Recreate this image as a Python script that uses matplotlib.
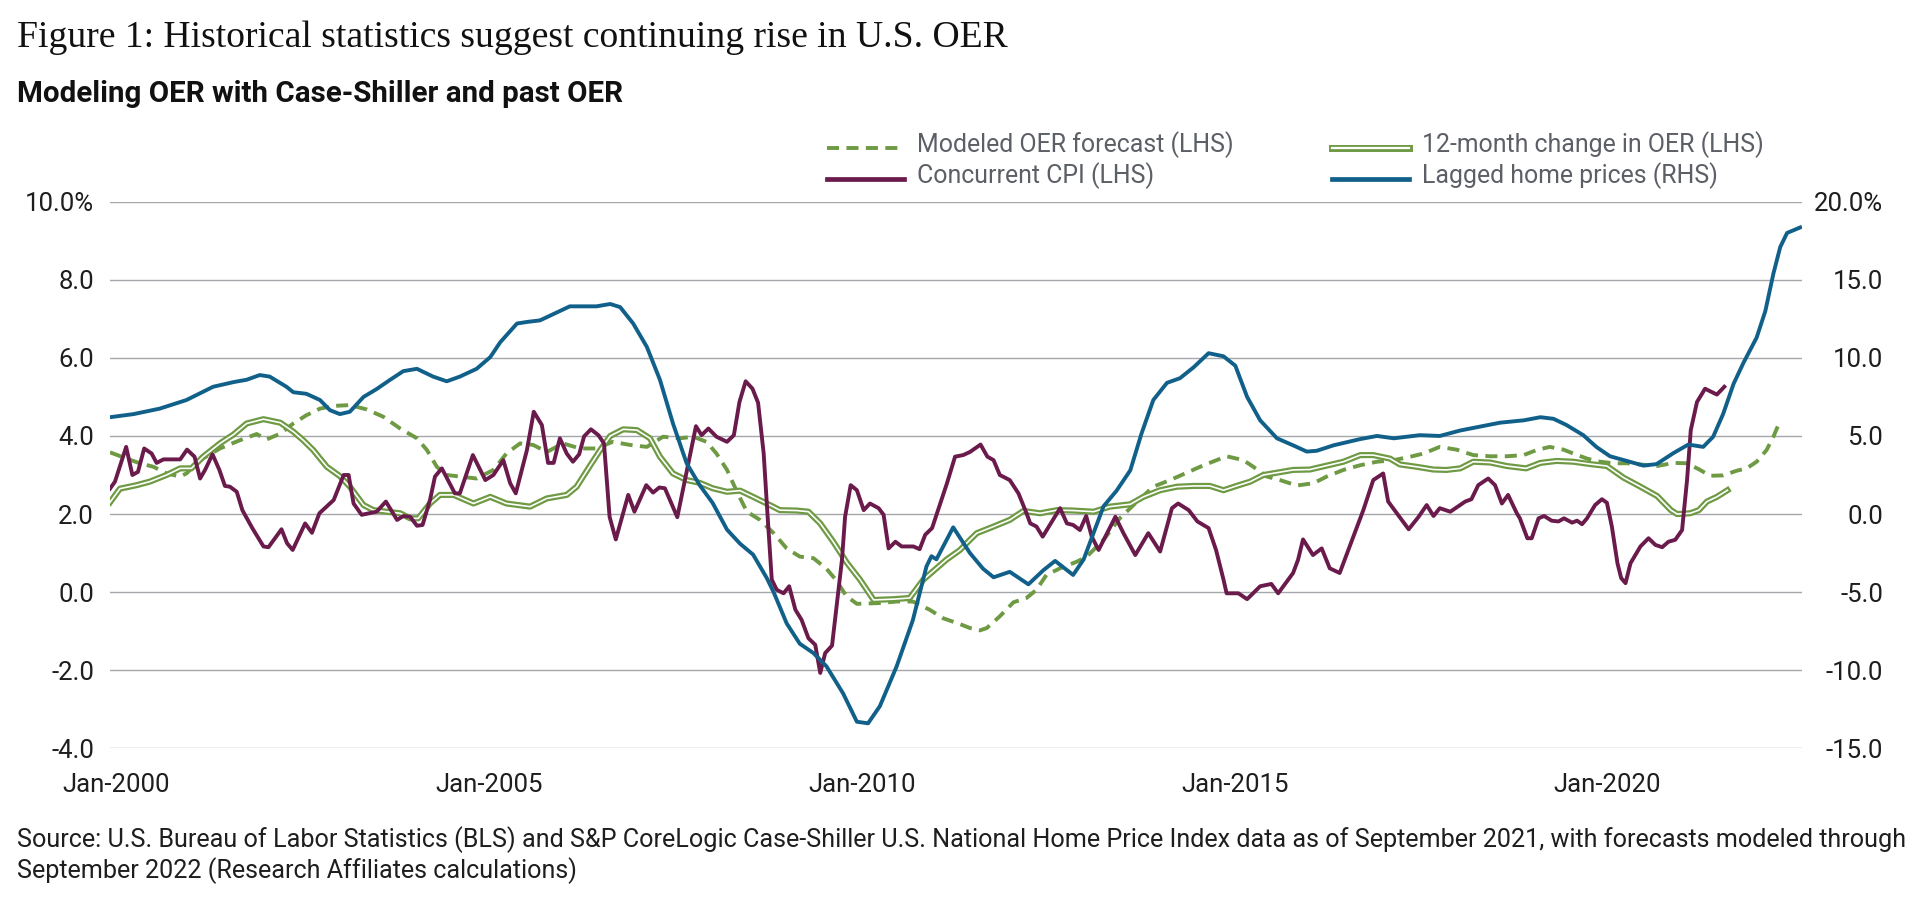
import matplotlib
matplotlib.use("Agg")
import matplotlib.pyplot as plt
from matplotlib.lines import Line2D

# ---------------- data (x = months since Jan-2000, values in %) ----------------
home_prices_rhs = [(-1, 6.2), (2.8, 6.4), (7, 6.75), (11.3, 7.3), (15.6, 8.15), (18.9, 8.45), (21, 8.6),
    (23.1, 8.9), (24.7, 8.8), (27.4, 8.15), (28.5, 7.8), (30.6, 7.7), (32.8, 7.3), (34.4, 6.65), (36, 6.4),
    (37.6, 6.55), (39.8, 7.5), (41.9, 8.0), (44.1, 8.6), (46.2, 9.15), (48.4, 9.3), (51, 8.8), (53.2, 8.5),
    (55.3, 8.8), (58, 9.3), (60.2, 10.05), (61.8, 11.0), (64.5, 12.2), (66.1, 12.3), (68.2, 12.4), (69.8, 12.7),
    (73, 13.3), (77.3, 13.3), (79.5, 13.45), (81.1, 13.25), (83.2, 12.2), (85.4, 10.7), (87.5, 8.6), (89.6, 5.8),
    (91.8, 3.25), (93.9, 1.85), (96, 0.7), (98.3, -1.0), (100.4, -1.9), (102.5, -2.6), (104.7, -4.1),
    (105.8, -5.0), (107.9, -7.0), (110, -8.3), (112.2, -8.9), (114.3, -9.75), (117, -11.5), (119.2, -13.3),
    (121, -13.4), (122.9, -12.3), (125.6, -9.75), (128.2, -6.8), (130.4, -3.35), (131.2, -2.7), (132, -2.9),
    (134.7, -0.85), (137.4, -2.5), (139.5, -3.5), (141.2, -4.05), (143.8, -3.7), (146.8, -4.5), (149.2, -3.6),
    (151.1, -3.0), (154, -3.9), (155.7, -2.9), (158.9, 0.5), (161, 1.5), (163.2, 2.8), (165, 5.15),
    (166.9, 7.3), (169.1, 8.4), (171.2, 8.7), (173.4, 9.4), (175.8, 10.3), (178.2, 10.1), (180.1, 9.5),
    (182, 7.5), (184.1, 6.0), (186.8, 4.85), (189.4, 4.4), (191.6, 4.0), (193.2, 4.05), (195.9, 4.4),
    (200.2, 4.8), (202.9, 5.0), (205.6, 4.85), (209.8, 5.05), (213, 5.0), (216.3, 5.35), (219.5, 5.6),
    (222.7, 5.85), (226.5, 6.0), (229.2, 6.2), (231.3, 6.1), (233.4, 5.7), (236.1, 5.05), (238.2, 4.3),
    (240.4, 3.7), (243.1, 3.4), (245.8, 3.1), (247.9, 3.2), (250.6, 3.9), (253, 4.45), (255.4, 4.3),
    (257, 4.95), (258.6, 6.4), (260.3, 8.35), (261.9, 9.7), (264, 11.3), (265.4, 13.0), (266.7, 15.4),
    (267.8, 17.1), (268.9, 18.0), (271, 18.35)]

concurrent_cpi = [(-1, 2.65), (-0.2, 2.83), (1.6, 3.72), (2.6, 3.0), (3.5, 3.08), (4.5, 3.68), (5.7, 3.55),
    (6.5, 3.31), (7.6, 3.40), (10.3, 3.40), (11.4, 3.65), (12.6, 3.47), (13.5, 2.91), (14.3, 3.13), (15.5, 3.53),
    (16.6, 3.13), (17.5, 2.72), (18.3, 2.70), (19.4, 2.57), (20.3, 2.10), (21.9, 1.64), (23.7, 1.17), (24.5, 1.15),
    (26.6, 1.61), (27.5, 1.25), (28.4, 1.08), (30.4, 1.76), (31.5, 1.52), (32.7, 2.02), (35, 2.36), (36.6, 3.0),
    (37.4, 3.0), (38.2, 2.27), (39.5, 1.98), (41.9, 2.06), (43.4, 2.32), (45.2, 1.85), (46.2, 1.95), (47.3, 1.93),
    (48.4, 1.70), (49.3, 1.72), (50.5, 2.36), (51.3, 2.96), (52.4, 3.17), (54.5, 2.53), (55.3, 2.53), (57.4, 3.51),
    (59.4, 2.87), (60.7, 3.0), (62.3, 3.38), (63.4, 2.79), (64.3, 2.53), (66.1, 3.64), (67.2, 4.62), (68.5, 4.28),
    (69.5, 3.31), (70.4, 3.31), (71.4, 3.94), (72.5, 3.55), (73.5, 3.34), (74.5, 3.53), (75.3, 3.99), (76.4, 4.17),
    (77.6, 4.02), (78.5, 3.81), (79.4, 1.93), (80.4, 1.35), (82.4, 2.49), (83.4, 2.06), (85.3, 2.74), (86.4, 2.55),
    (87.4, 2.68), (88.3, 2.66), (90.3, 1.92), (93.3, 4.25), (94.2, 4.02), (95.3, 4.19), (96.6, 3.98), (98.3, 3.85),
    (99.4, 4.02), (100.3, 4.87), (101.3, 5.40), (102.4, 5.21), (103.3, 4.85), (104.2, 3.55), (104.8, 2.02),
    (105.5, 0.32), (106.3, 0.06), (107.4, -0.03), (108.3, 0.15), (109.3, -0.45), (110.3, -0.71), (111.4, -1.18),
    (112.5, -1.35), (113.3, -2.07), (114.1, -1.56), (115.2, -1.37), (116, -0.28), (116.8, 0.83), (117.3, 1.93),
    (118.2, 2.74), (119.2, 2.61), (120.3, 2.10), (121.3, 2.27), (122.7, 2.15), (123.5, 1.98), (124.3, 1.12),
    (125.4, 1.29), (126.4, 1.17), (128.3, 1.17), (129.3, 1.10), (130.2, 1.47), (131.3, 1.64), (133.7, 2.79),
    (135, 3.47), (136.3, 3.51), (137.4, 3.59), (139.1, 3.78), (140.2, 3.47), (141.2, 3.38), (142.2, 3.0),
    (143.8, 2.87), (145.2, 2.53), (146.5, 2.02), (147.1, 1.76), (148.1, 1.68), (149.1, 1.42), (151.9, 2.15),
    (153, 1.76), (154, 1.72), (155.1, 1.59), (156.1, 1.95), (157, 1.42), (158.1, 1.08), (160.8, 1.93),
    (162.1, 1.51), (164, 0.95), (166.1, 1.51), (168, 1.04), (169.9, 2.15), (170.9, 2.27), (172.6, 2.10),
    (174, 1.81), (175.8, 1.64), (177, 1.08), (178.2, 0.32), (178.7, -0.03), (179.5, -0.03), (180.6, -0.03),
    (182, -0.18), (184.1, 0.15), (185.9, 0.21), (187, -0.03), (189.4, 0.49), (190.2, 0.83), (191, 1.35),
    (192.6, 0.95), (194, 1.12), (195.3, 0.61), (196.9, 0.49), (198.6, 1.21), (200.7, 2.10), (202.3, 2.87),
    (203.9, 3.04), (204.7, 2.32), (206.1, 2.02), (208, 1.61), (209.6, 1.93), (210.9, 2.23), (212, 1.95),
    (213, 2.15), (214.7, 2.06), (217.1, 2.32), (218.1, 2.38), (219.2, 2.74), (220.8, 2.91), (221.9, 2.74),
    (223, 2.27), (224, 2.49), (225.4, 2.02), (225.9, 1.89), (227.1, 1.38), (227.8, 1.38), (228.9, 1.89),
    (229.8, 1.95), (231, 1.83), (232.1, 1.81), (233, 1.89), (234.3, 1.78), (235.1, 1.83), (235.9, 1.74),
    (236.7, 1.89), (238, 2.23), (239.1, 2.38), (239.9, 2.29), (240.7, 1.68), (241.6, 0.74), (242.2, 0.36),
    (242.9, 0.23), (243.7, 0.74), (245.3, 1.17), (246.6, 1.38), (247.7, 1.21), (248.8, 1.15), (249.8, 1.29),
    (250.9, 1.34), (252, 1.59), (252.8, 2.87), (253.4, 4.15), (254.4, 4.87), (255.7, 5.21), (257.6, 5.06),
    (258.8, 5.26)]

oer_12m_change = [(-1, 2.3), (0.6, 2.65), (3.3, 2.74), (5.4, 2.83), (8.1, 3.0), (10.3, 3.17), (12.1, 3.17),
    (14, 3.47), (16.7, 3.81), (18.9, 4.04), (21, 4.32), (23.7, 4.43), (26.4, 4.34), (28.5, 4.11), (30.1, 3.89),
    (31.7, 3.64), (33.9, 3.21), (36, 2.97), (37.6, 2.70), (39.8, 2.23), (41.4, 2.10), (43.5, 2.06), (45.7, 2.02),
    (47.3, 1.89), (48.6, 1.89), (50.5, 2.27), (52.1, 2.49), (54.3, 2.49), (57.5, 2.27), (60.2, 2.44),
    (62.8, 2.27), (66.6, 2.19), (69.3, 2.40), (72.5, 2.49), (74.1, 2.70), (76.3, 3.25), (77.9, 3.64), (79.5, 4.0),
    (81.6, 4.17), (83.8, 4.15), (85.9, 3.94), (87.5, 3.47), (89.6, 3.04), (91.8, 2.87), (93.9, 2.80), (96, 2.66),
    (98.3, 2.57), (100.4, 2.60), (102.5, 2.44), (105.2, 2.23), (106.8, 2.10), (109.5, 2.09), (111.4, 2.06),
    (113.3, 1.76), (115.4, 1.29), (117.6, 0.75), (119.7, 0.32), (121.9, -0.20), (125.1, -0.18), (127.7, -0.15),
    (129.9, 0.32), (133.6, 0.83), (135.8, 1.08), (137.4, 1.34), (138.5, 1.51), (141.2, 1.68), (143.8, 1.85),
    (146, 2.08), (148.7, 2.02), (151.4, 2.10), (154, 2.09), (157.3, 2.06), (159.9, 2.19), (163.2, 2.25),
    (165.3, 2.44), (168, 2.61), (170.7, 2.70), (173.4, 2.72), (176, 2.72), (178.2, 2.61), (180.3, 2.72),
    (182.5, 2.83), (184.6, 3.0), (186.8, 3.06), (189.4, 3.13), (192.1, 3.14), (194.8, 3.24), (197.5, 3.34),
    (200.2, 3.51), (202.3, 3.51), (205, 3.42), (206.6, 3.27), (209.3, 3.21), (212, 3.14), (214.1, 3.13),
    (216.3, 3.17), (218.4, 3.34), (221.1, 3.32), (223.8, 3.23), (226.9, 3.17), (229.2, 3.31), (231.8, 3.36),
    (234.5, 3.34), (237.2, 3.28), (239.9, 3.23), (242.6, 2.93), (245.3, 2.70), (248, 2.46), (250.2, 2.10),
    (251.2, 2.0), (253.3, 2.02), (254.7, 2.10), (256, 2.32), (257.6, 2.44), (259.3, 2.61)]

modeled_oer = [(-1, 3.58), (1.7, 3.42), (3.8, 3.30), (6, 3.21), (8.1, 3.04), (10.3, 2.96), (11.3, 3.04),
    (13.5, 3.38), (16.7, 3.68), (19.9, 3.89), (22.6, 4.05), (24.2, 3.91), (26.4, 4.06), (28.5, 4.32), (30.6, 4.53),
    (32.8, 4.70), (35, 4.77), (37.6, 4.79), (40.3, 4.68), (43, 4.49), (45.7, 4.19), (48.4, 3.94), (50, 3.64),
    (51.6, 3.21), (53.2, 3.0), (55.3, 2.96), (58, 2.91), (60.7, 3.13), (62.8, 3.55), (65, 3.81), (67.1, 3.77),
    (69.3, 3.59), (71.9, 3.81), (74.6, 3.68), (77.2, 3.68), (79.9, 3.85), (82.7, 3.77), (85.4, 3.72), (88, 3.98),
    (90.7, 3.94), (92.9, 3.98), (95, 3.85), (96.6, 3.55), (98.3, 3.13), (99.9, 2.57), (101.5, 2.06), (103.6, 1.85),
    (105.8, 1.51), (107.9, 1.12), (110, 0.91), (112.2, 0.87), (114.3, 0.6), (115.9, 0.3), (117.5, -0.1),
    (119.2, -0.3), (122.9, -0.28), (125.6, -0.24), (128.2, -0.24), (130.9, -0.45), (133.1, -0.67), (135.8, -0.82),
    (137.4, -0.92), (139, -0.98), (140.1, -0.92), (142.2, -0.62), (144.4, -0.26), (146.5, -0.15), (148.1, 0.06),
    (149.7, 0.44), (151.9, 0.61), (154.6, 0.78), (156.2, 0.91), (158.9, 1.34), (161.5, 1.89), (164.3, 2.32),
    (166.9, 2.70), (169.6, 2.87), (172.3, 3.06), (175, 3.25), (178.7, 3.48), (181.4, 3.38), (183, 3.21),
    (185.2, 2.96), (187.3, 2.87), (190, 2.73), (192.7, 2.79), (194.8, 2.96), (197.5, 3.13), (200.2, 3.25),
    (202.9, 3.34), (205.6, 3.38), (208.3, 3.47), (210.4, 3.55), (213, 3.72), (215.7, 3.65), (218.4, 3.51),
    (221.1, 3.48), (223.8, 3.48), (226.5, 3.51), (228.6, 3.64), (230.7, 3.72), (232.9, 3.65), (234.5, 3.55),
    (236.7, 3.42), (238.8, 3.34), (241, 3.30), (243.1, 3.30), (245.3, 3.27), (248, 3.23), (250.6, 3.31),
    (252.8, 3.30), (254.9, 3.13), (256.5, 2.98), (258.6, 2.99), (260.8, 3.11), (262.4, 3.17), (264, 3.34),
    (265.6, 3.64), (266.7, 3.98), (267.8, 4.40)]

x_tick_months = [0, 60, 120, 180, 240]
x_tick_labels = ["Jan-2000", "Jan-2005", "Jan-2010", "Jan-2015", "Jan-2020"]
lhs_ticks = [-4, -2, 0, 2, 4, 6, 8, 10]
lhs_labels = ["-4.0", "-2.0", "0.0", "2.0", "4.0", "6.0", "8.0", "10.0%"]
rhs_ticks = [-15, -10, -5, 0, 5, 10, 15, 20]
rhs_labels = ["-15.0", "-10.0", "-5.0", "0.0", "5.0", "10.0", "15.0", "20.0%"]

legend_labels = ["Modeled OER forecast (LHS)", "12-month change in OER (LHS)",
                 "Concurrent CPI (LHS)", "Lagged home prices (RHS)"]
title = "Figure 1: Historical statistics suggest continuing rise in U.S. OER"
subtitle = "Modeling OER with Case-Shiller and past OER"
source_lines = ["Source: U.S. Bureau of Labor Statistics (BLS) and S&P CoreLogic Case-Shiller U.S. National Home Price Index data as of September 2021, with forecasts modeled through",
                "September 2022 (Research Affiliates calculations)"]

# ---------------- styling ----------------
GREEN = "#6F9A44"
PURPLE = "#6A1A4B"
BLUE = "#11608A"
GRID = "#A4A7AB"
TXT = "#1E1E1E"
LEG_TXT = "#5C6066"
SANS = ["Roboto", "DejaVu Sans"]

W, H = 1920, 909
fig = plt.figure(figsize=(W / 100, H / 100), dpi=100)
fig.patch.set_facecolor("white")

def fx(px):
    return px / W

def fy(py):
    return 1 - py / H

ax_left, ax_right, ax_top, ax_bottom = 110, 1802, 201.7, 748.3
ax = fig.add_axes([fx(ax_left), fy(ax_bottom), (ax_right - ax_left) / W, (ax_bottom - ax_top) / H])
ax2 = ax.twinx()

def split(pairs):
    pairs = sorted(pairs)
    return [p[0] for p in pairs], [p[1] for p in pairs]

lw_main = 2.8
DASH = (3.1, 1.9)
mx, mv = split(modeled_oer)
ax.plot(mx, mv, color=GREEN, lw=lw_main, dashes=DASH, solid_capstyle="butt", zorder=3)
ox, ov = split(oer_12m_change)
ax.plot(ox, ov, color=GREEN, lw=4.4, solid_joinstyle="round", zorder=4)
ax.plot(ox, ov, color="white", lw=1.2, solid_joinstyle="round", zorder=5)
cx, cv = split(concurrent_cpi)
ax.plot(cx, cv, color=PURPLE, lw=lw_main, solid_joinstyle="round", zorder=6)
bx, bv = split(home_prices_rhs)
ax2.plot(bx, bv, color=BLUE, lw=lw_main, solid_joinstyle="round", zorder=6)

ax.set_xlim(-1, 271.3)
ax.set_ylim(-4, 10)
ax2.set_ylim(-15, 20)

for a in (ax, ax2):
    for s in a.spines.values():
        s.set_visible(False)
    a.tick_params(length=0)

ax.set_yticks(lhs_ticks)
ax.set_yticklabels(lhs_labels)
ax2.set_yticks(rhs_ticks)
ax2.set_yticklabels(rhs_labels)
ax.set_xticks(x_tick_months)
ax.set_xticklabels(x_tick_labels)
ax.grid(axis="y", color=GRID, lw=1.0, zorder=0)
ax.grid(axis="x", visible=False)
ax.set_axisbelow(True)

TICK_FS = 18.5
ax.tick_params(axis="y", pad=11.5, labelsize=TICK_FS, labelcolor=TXT)
ax.tick_params(axis="x", pad=18, labelsize=TICK_FS, labelcolor=TXT)
ax2.tick_params(axis="y", pad=58.3, labelsize=TICK_FS, labelcolor=TXT)
for lab in ax.get_yticklabels() + ax.get_xticklabels() + ax2.get_yticklabels():
    lab.set_family(SANS)
    lab.set_fontweight("normal")
for lab in ax2.get_yticklabels():
    lab.set_horizontalalignment("right")

# ---------------- texts ----------------
fig.canvas.draw()
renderer = fig.canvas.get_renderer()

def fit(t, target):
    w = t.get_window_extent(renderer).width
    t.set_fontsize(t.get_fontsize() * target / w)

t_title = fig.text(fx(17), fy(47), title, family=["Liberation Serif", "DejaVu Serif"], fontsize=24,
                   color="#111111", va="baseline", ha="left")
fit(t_title, 993)
t_sub = fig.text(fx(17), fy(102), subtitle, family=SANS, fontweight="bold", fontsize=17,
                 color="#111111", va="baseline", ha="left")
fit(t_sub, 604)
t_src1 = fig.text(fx(17), fy(847), source_lines[0], family=SANS, fontweight="normal", fontsize=18,
                  color=TXT, va="baseline", ha="left")
fit(t_src1, 1890)
fig.text(fx(17), fy(878), source_lines[1], family=SANS, fontweight="normal",
         fontsize=t_src1.get_fontsize(), color=TXT, va="baseline", ha="left")

# ---------------- legend (manual) ----------------
leg_baselines = [151.7, 183.3]
col_x = [827, 1332]
sample_len = 77
txt_gap = 13
entries = [(0, 0, "dash"), (1, 0, "double"), (0, 1, "cpi"), (1, 1, "blue")]
leg_fs = None
for (col, row, kind), label in zip(entries, legend_labels):
    x0, yb = col_x[col], leg_baselines[row]
    ys_px = yb - 4
    xs = [fx(x0), fx(x0 + sample_len)]
    ys = [fy(ys_px), fy(ys_px)]
    if kind == "dash":
        fig.add_artist(Line2D(xs, ys, color=GREEN, lw=lw_main, dashes=DASH, transform=fig.transFigure))
    elif kind == "double":
        fig.add_artist(Line2D(xs, ys, color=GREEN, lw=5.0, transform=fig.transFigure))
        fig.add_artist(Line2D(xs, ys, color="white", lw=1.6, transform=fig.transFigure))
    elif kind == "cpi":
        fig.add_artist(Line2D(xs, ys, color=PURPLE, lw=3.4, transform=fig.transFigure))
    else:
        fig.add_artist(Line2D(xs, ys, color=BLUE, lw=3.4, transform=fig.transFigure))
    t = fig.text(fx(x0 + sample_len + txt_gap), fy(yb), label, family=SANS, fontweight="normal",
                 fontsize=leg_fs or 19, color=LEG_TXT, va="baseline", ha="left")
    if leg_fs is None:
        fit(t, 316)
        leg_fs = t.get_fontsize()

fig.savefig("out.png", dpi=100, facecolor="white")
